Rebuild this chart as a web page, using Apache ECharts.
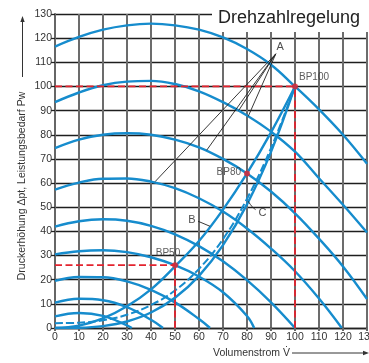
<!DOCTYPE html>
<html><head><meta charset="utf-8">
<script src="https://cdn.jsdelivr.net/npm/echarts@6/dist/echarts.min.js"></script>
<style>html,body{margin:0;padding:0;background:#fff}#c{width:369px;height:363px}</style>
</head><body><div id="c"></div>
<script>
// Fan curves at reduced speed (100 % down to 20 %), flow V vs. pressure rise
const speed100 = [[0,116.5],[10,120.5],[20,123.5],[30,125.3],[40,126],[50,125.3],[60,123.5],[70,120.3],[80,115.5],[90,109],[100,100],[110,90.5],[120,80],[130,68]];
const speed90  = [[0,93.5],[10,97.5],[20,100.5],[30,102],[40,102.3],[50,101],[60,98],[70,93.5],[80,88],[90,81.3],[100,73],[110,62],[120,51],[130,39.5]];
const speed80  = [[0,74.5],[10,78],[20,80],[30,80.6],[40,80],[50,78],[60,74.8],[70,70],[80,64],[90,56.5],[100,47.5],[110,37],[120,25.5],[130,12]];
const speed70  = [[0,57.3],[10,60.2],[20,61.8],[30,61.9],[40,60.6],[50,57.9],[60,53.7],[70,48.2],[80,41.2],[90,32.9],[100,23.5],[110,12.2],[119.5,0]];
const speed60  = [[0,42],[10,44.2],[20,45],[30,44.4],[40,42.3],[50,38.8],[60,33.9],[70,27.6],[80,19.8],[90,10.6],[100,0]];
const speed50  = [[0,30.5],[10,31.8],[20,32.2],[30,31.4],[40,29.3],[50,26],[60,21.3],[70,14.8],[80,5],[83,0]];
const speed40  = [[0,19.5],[10,21.1],[20,21],[30,19.3],[40,15.8],[50,10.6],[60,3.7],[64.6,0]];
const speed30  = [[0,10.5],[10,12.1],[20,11.5],[30,8.6],[40,3.4],[45,0]];
const speed20  = [[0,4.8],[10,6.2],[20,5],[30,1.1],[32,0]];

// System curve B and power demand C (solid) / real power demand (dashed)
const systemB = [[0,0],[10,1],[20,4],[30,9],[40,16],[50,25.5],[60,36],[70,49],[80,64],[90,81],[100,100]];
const powerC  = [[0,0],[10,0.1],[20,0.8],[30,2.7],[40,6.4],[50,12.5],[60,21.6],[70,34.3],[80,51.2],[90,72.9],[100,100]];
const powerReal = [[0,2],[10,2.2],[20,3.2],[30,5.5],[40,9.5],[50,15.5],[60,24.5],[70,36.8],[80,53.5],[90,74.5],[100,100]];

// Operating points
const opPoints = [[100,100],[80,64],[50,26]];
const opNames = ['BP100','BP80','BP50'];
const bp100Guides = [[[0,100],[100,100]],[[100,0],[100,100]]];
const bp50Guides  = [[[0,26],[50,26]],[[50,0],[50,26]]];

// Callout lines for label A (common vertex and ends on the speed curves)
const aVertex = [92,113.5];
const aEnds = [[41.7,60.6],[63.2,73.6],[76.5,90],[80.5,87.6]];
const bLeader = [[59.6,44.2],[64.6,42.1]];
const cLeader = [[80.5,52.5],[82,50.4],[83.6,49]];
const calloutNames = ['A','B','C'];
const calloutPos = [[93.8,116.5],[57.1,44.9],[86.4,47.7]];

const xTicks = {min:0,max:130,step:10};
const yTicks = {min:0,max:130,step:10};

const BLUE = '#168ccd', RED = '#e3232e', FONT = '"Liberation Sans", Arial, sans-serif';

const chart = echarts.init(document.getElementById('c'), null, {renderer:'canvas'});

const pumpCurves = [speed100,speed90,speed80,speed70,speed60,speed50,speed40,speed30,speed20];
const series = [];
pumpCurves.forEach(d => series.push({type:'line',data:d,smooth:0.4,showSymbol:false,silent:true,
  lineStyle:{color:BLUE,width:2.4},z:3}));
series.push({type:'line',data:systemB,smooth:0.4,showSymbol:false,lineStyle:{color:BLUE,width:2.4},z:3});
series.push({type:'line',data:powerC,smooth:0.4,showSymbol:false,lineStyle:{color:BLUE,width:2.4},z:3});
series.push({type:'line',data:powerReal,smooth:0.4,showSymbol:false,lineStyle:{color:BLUE,width:2,type:[8,3]},z:3});
bp100Guides.concat(bp50Guides).forEach(seg => series.push({type:'line',data:seg,showSymbol:false,
  lineStyle:{color:RED,width:1.8,type:[7,3.5]},z:4}));
aEnds.forEach(e => series.push({type:'line',data:[aVertex,e],showSymbol:false,lineStyle:{color:'#222',width:0.9},z:5}));
series.push({type:'line',data:bLeader,showSymbol:false,lineStyle:{color:'#222',width:0.9},z:5});
series.push({type:'line',data:cLeader,smooth:true,showSymbol:false,lineStyle:{color:'#222',width:0.9},z:5});

const opLabel = [
  {position:'right',distance:1,offset:[0,-9]},
  {position:'left',distance:3,offset:[0,-1]},
  {position:'top',distance:4,offset:[-7,0]}
];
series.push({type:'scatter',symbolSize:6,itemStyle:{color:RED},z:6,
  data:opPoints.map((p,i)=>({value:p,name:opNames[i],label:opLabel[i]})),
  label:{show:true,formatter:'{b}',fontFamily:FONT,fontSize:10,color:'#333'}});
series.push({type:'scatter',symbolSize:0,z:6,
  data:calloutPos.map((p,i)=>({value:p,name:calloutNames[i]})),
  label:{show:true,position:'inside',formatter:'{b}',fontFamily:FONT,fontSize:11,color:'#222'}});

chart.setOption({
  animation:false,
  grid:{left:55,right:2,top:14,bottom:35,containLabel:false,outerBoundsMode:'none'},
  xAxis:{type:'value',min:xTicks.min,max:xTicks.max,interval:xTicks.step,
    axisLine:{show:true,lineStyle:{color:'#222',width:1.3}},
    axisTick:{show:true,length:3,lineStyle:{color:'#666',width:2}},
    axisLabel:{fontFamily:FONT,fontSize:10.5,color:'#333',margin:4,alignMinLabel:'center',alignMaxLabel:'center'},
    splitLine:{show:true,lineStyle:{color:'#6c6c6c',width:2}}},
  yAxis:{type:'value',min:yTicks.min,max:yTicks.max,interval:yTicks.step,
    axisLine:{show:true,lineStyle:{color:'#666',width:2}},
    axisTick:{show:true,length:4,lineStyle:{color:'#222',width:1.3}},
    axisLabel:{fontFamily:FONT,fontSize:10.5,color:'#333',margin:3},
    splitLine:{show:true,lineStyle:{color:'#1e1e1e',width:1.3}}},
  graphic:[
    {type:'rect',shape:{x:212,y:0,width:157,height:32},style:{fill:'#fff'},z:1},
    {type:'text',x:218,y:27,style:{text:'Drehzahlregelung',font:'18px '+FONT,fill:'#222',textVerticalAlign:'bottom'},z:10},
    {type:'text',x:22,y:186,rotation:Math.PI/2,style:{text:'Druckerhöhung Δpt, Leistungsbedarf Pw',font:'10.5px '+FONT,fill:'#333',textAlign:'center',textVerticalAlign:'middle'},z:10},
    {type:'line',shape:{x1:22.5,y1:77,x2:22.5,y2:20},style:{stroke:'#333',lineWidth:1},z:10},
    {type:'polygon',shape:{points:[[22.5,16],[20.3,22],[24.7,22]]},style:{fill:'#333'},z:10},
    {type:'text',x:213,y:353,style:{text:'Volumenstrom V\u0307',font:'10.5px '+FONT,fill:'#333',textVerticalAlign:'middle'},z:10},
    {type:'line',shape:{x1:292,y1:353,x2:364,y2:353},style:{stroke:'#333',lineWidth:1},z:10},
    {type:'polygon',shape:{points:[[369,353],[363,350.8],[363,355.2]]},style:{fill:'#333'},z:10}
  ],
  series:series
});
</script></body></html>
